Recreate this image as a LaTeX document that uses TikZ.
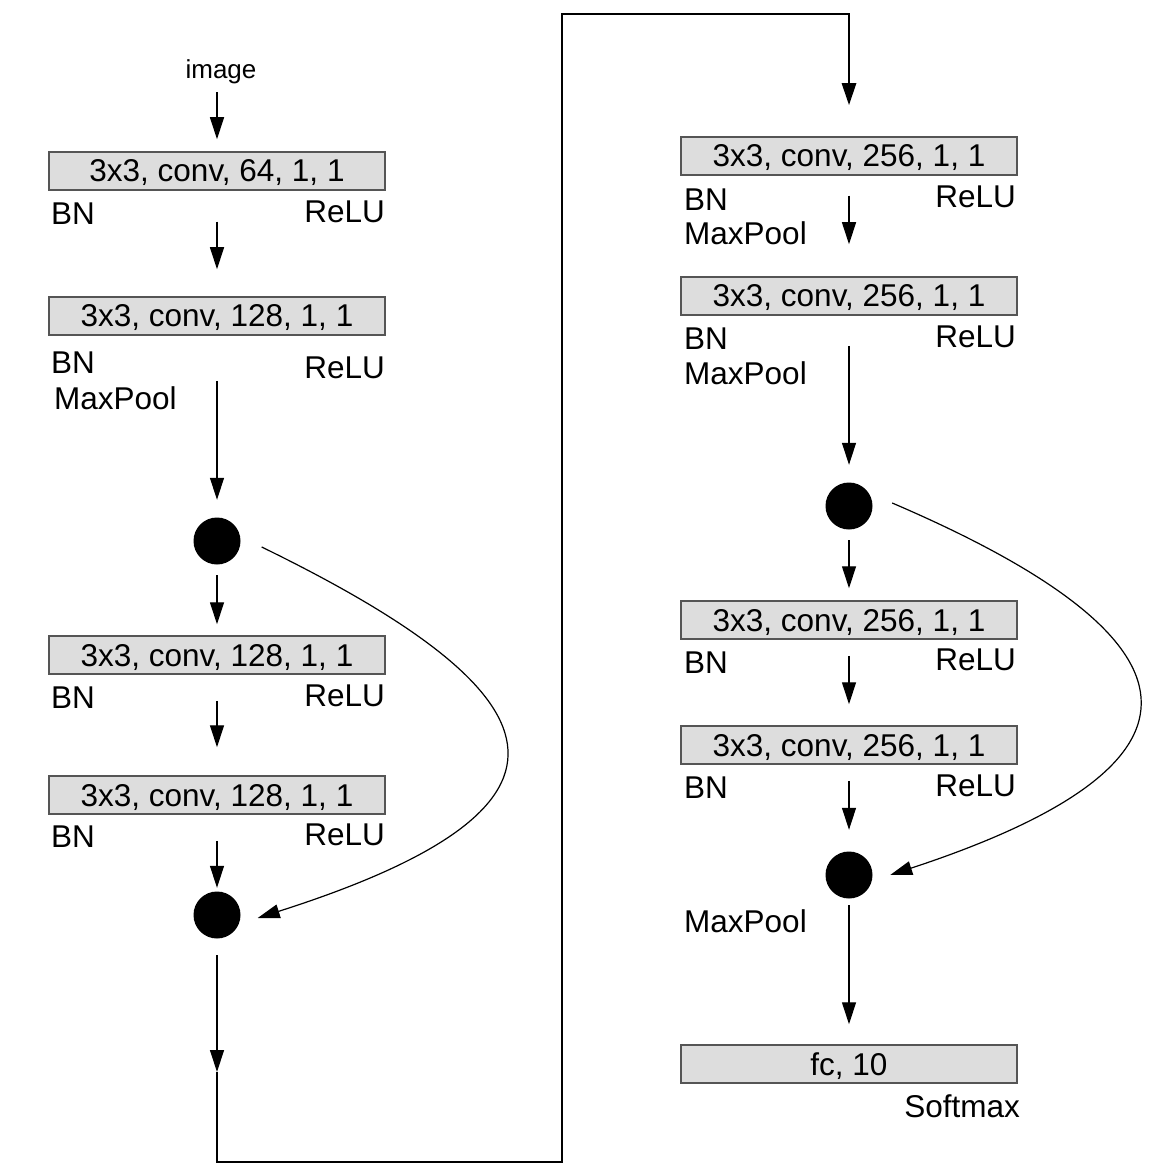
\documentclass[tikz,border=0pt]{standalone}
\usepackage{fontspec}
\setmainfont{Liberation Sans}
\usetikzlibrary{arrows.meta,calc}
\definecolor{boxfill}{RGB}{221,221,221}
\definecolor{boxline}{RGB}{85,85,85}
\begin{document}
\begin{tikzpicture}[x=1pt,y=-1pt,
  box/.style={draw=boxline, line width=1.5pt, fill=boxfill, minimum width=336pt, minimum height=38pt, inner sep=0pt, text depth=0pt, font=\fontsize{31.5}{36}\selectfont},
  lbl/.style={inner sep=0pt, font=\fontsize{31.5}{36}\selectfont},
  dot/.style={circle, fill=black, minimum size=47pt, inner sep=0pt},
  arr/.style={line width=1.2pt, -{Triangle[length=22pt,width=14pt]}},
  bus/.style={line width=2.8pt, -{Triangle[length=22pt,width=14pt]}}]
\useasboundingbox (0,0) rectangle (1154,1174);

% left column
\node[inner sep=0pt, font=\fontsize{26}{30}\selectfont] (img) at (221,72) {image};
\node[box] (L1) at (217,171) {3x3, conv, 64, 1, 1};
\node[box] (L2) at (217,316) {3x3, conv, 128, 1, 1};
\node[dot] (C1) at (217,541) {};
\node[box] (L3) at (217,655) {3x3, conv, 128, 1, 1};
\node[box] (L4) at (217,795) {3x3, conv, 128, 1, 1};
\node[dot] (C2) at (217,915) {};
\coordinate (D1) at (217,1072);
\coordinate (D2) at (217,1162);
\coordinate (D3) at (562,1162);
\coordinate (D4) at (562,14);

% right column
\node[box] (R1) at (849,156) {3x3, conv, 256, 1, 1};
\node[box] (R2) at (849,296) {3x3, conv, 256, 1, 1};
\node[dot] (C3) at (849,506) {};
\node[box] (R3) at (849,620) {3x3, conv, 256, 1, 1};
\node[box] (R4) at (849,745) {3x3, conv, 256, 1, 1};
\node[dot] (C4) at (849,875) {};
\node[box] (FC) at (849,1064) {fc, 10};
\coordinate (D5) at (D4 -| R1);

% labels left
\node[lbl, anchor=west] (l1bn) at (51,214) {BN};
\node[lbl, anchor=east] (l1re) at (385,212) {ReLU};
\node[lbl, anchor=west] (l2bn) at (51,363) {BN};
\node[lbl, anchor=west] (l2mp) at (54,398) {MaxPool};
\node[lbl, anchor=east] (l2re) at (385,368) {ReLU};
\node[lbl, anchor=west] (l3bn) at (51,698) {BN};
\node[lbl, anchor=east] (l3re) at (385,696) {ReLU};
\node[lbl, anchor=west] (l4bn) at (51,837) {BN};
\node[lbl, anchor=east] (l4re) at (385,835) {ReLU};

% labels right
\node[lbl, anchor=west] (r1bn) at (684,200) {BN};
\node[lbl, anchor=west] (r1mp) at (684,233) {MaxPool};
\node[lbl, anchor=east] (r1re) at (1016,197) {ReLU};
\node[lbl, anchor=west] (r2bn) at (684,339) {BN};
\node[lbl, anchor=west] (r2mp) at (684,373) {MaxPool};
\node[lbl, anchor=east] (r2re) at (1016,337) {ReLU};
\node[lbl, anchor=west] (r3bn) at (684,663) {BN};
\node[lbl, anchor=east] (r3re) at (1016,660) {ReLU};
\node[lbl, anchor=west] (r4bn) at (684,788) {BN};
\node[lbl, anchor=east] (r4re) at (1016,786) {ReLU};
\node[lbl, anchor=west] (r5mp) at (684,921) {MaxPool};
\node[lbl, anchor=east] (smx) at (1020,1106) {Softmax};

% left arrows
\draw[arr, shorten <=8pt, shorten >=12pt] (img.south -| L1) -- (L1.north);
\draw[arr, shorten <=31pt, shorten >=27pt] (L1.south) -- (L2.north);
\draw[arr, shorten <=45pt, shorten >=17.5pt] (L2.south) -- (C1.north);
\draw[arr, shorten <=10.5pt, shorten >=11pt] (C1.south) -- (L3.north);
\draw[arr, shorten <=26pt, shorten >=28pt] (L3.south) -- (L4.north);
\draw[arr, shorten <=26pt, shorten >=3.5pt] (L4.south) -- (C2.north);
\draw[arr, shorten <=16.5pt] (C2.south) -- (D1);
\draw[bus, shorten >=31pt] (D1) -- (D2) -- (D3) -- (D4) -- (D5) -- (R1.north);

% right arrows
\draw[arr, shorten <=20pt, shorten >=32pt] (R1.south) -- (R2.north);
\draw[arr, shorten <=30pt, shorten >=17.5pt] (R2.south) -- (C3.north);
\draw[arr, shorten <=10.5pt, shorten >=12pt] (C3.south) -- (R3.north);
\draw[arr, shorten <=16pt, shorten >=21pt] (R3.south) -- (R4.north);
\draw[arr, shorten <=16pt, shorten >=21.5pt] (R4.south) -- (C4.north);
\draw[arr, shorten <=6.5pt, shorten >=20pt] (C4.south) -- (FC.north);

% skip connections
\draw[arr] ($(C1.east)+(21,6)$) .. controls (561,693) and (612,805) .. ($(C2.east)+(17,3)$);
\draw[arr] ($(C3.east)+(19.5,-3)$) .. controls (1191,631) and (1249,757) .. ($(C4.east)+(17.5,0)$);
\end{tikzpicture}
\end{document}
